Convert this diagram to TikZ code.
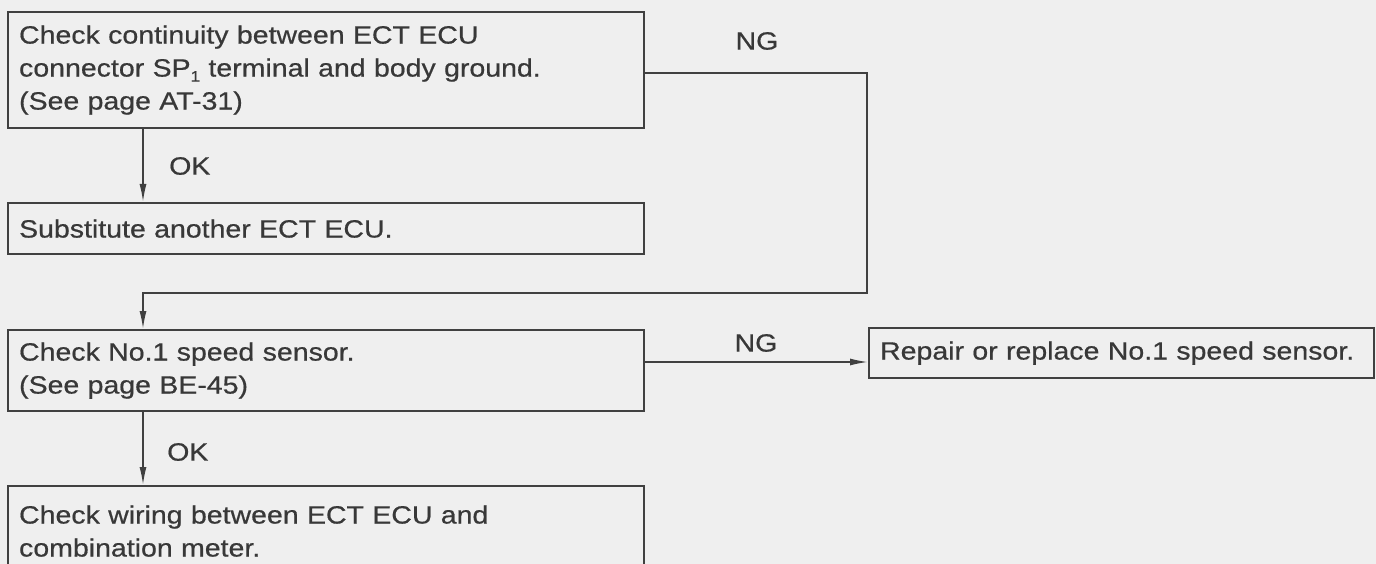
\documentclass[tikz,border=0pt]{standalone}
\usepackage{fontspec}
\setmainfont{Liberation Sans}[FakeStretch=1.14,FakeBold=0.6]
\usetikzlibrary{arrows.meta}
\definecolor{bg}{HTML}{EFEFEF}
\definecolor{ink}{HTML}{383838}
\definecolor{linec}{HTML}{404040}
\newcommand\mysubone{\raisebox{-5pt}{\fontsize{15}{15}\selectfont 1}}
\begin{document}
\begin{tikzpicture}[x=1pt,y=-1pt,
  box/.style={draw=linec, line width=2.2pt, fill=bg, anchor=north west, inner xsep=11pt, inner ysep=0pt, align=left, text=ink, font=\fontsize{25}{33}\selectfont},
  conn/.style={draw=linec, line width=1.6pt},
  arr/.style={conn, -{Latex[length=18pt,width=7pt]}},
  lbl/.style={text=ink, font=\fontsize{25}{33}\selectfont, inner sep=0pt}]
\fill[bg] (0,0) rectangle (1376,564);
\useasboundingbox (0,0) rectangle (1376,564);
\node[box, text width=614pt, minimum height=116pt] (b1) at (7,11) {Check continuity between ECT ECU\\connector SP\mysubone\ terminal and body ground.\\(See page AT-31)};
\node[box, text width=614pt, minimum height=51pt] (b2) at (7,202) {Substitute another ECT ECU.};
\node[box, text width=614pt, minimum height=81pt] (b3) at (7,329) {Check No.1 speed sensor.\\(See page BE-45)};
\node[box, text width=483pt, minimum height=50pt] (b4) at (868,327) {Repair or replace No.1 speed sensor.};
\node[box, text width=614pt, minimum height=90pt] (b5) at (7,485) {Check wiring between ECT ECU and\\combination meter.};
\coordinate (ax) at (143,0);
\coordinate (nr) at (867,293);
\coordinate (nl) at (143,293);
\coordinate (ng2) at (0,362);
\draw[arr] (b1.south -| ax) -- (b2.north -| ax);
\draw[arr] ([yshift=-3pt]b1.east) -| (nr) -- (nl) -- (b3.north -| nl);
\draw[arr] (b3.east |- ng2) -- (b4.west |- ng2);
\draw[arr] (b3.south -| ax) -- (b5.north -| ax);
\node[lbl, anchor=west] (ok1) at (169,166) {OK};
\node[lbl, anchor=west] (ok2) at (167,452) {OK};
\node[lbl] (ng1) at (757,41) {NG};
\node[lbl] (ng2l) at (756,343) {NG};
\end{tikzpicture}
\end{document}
